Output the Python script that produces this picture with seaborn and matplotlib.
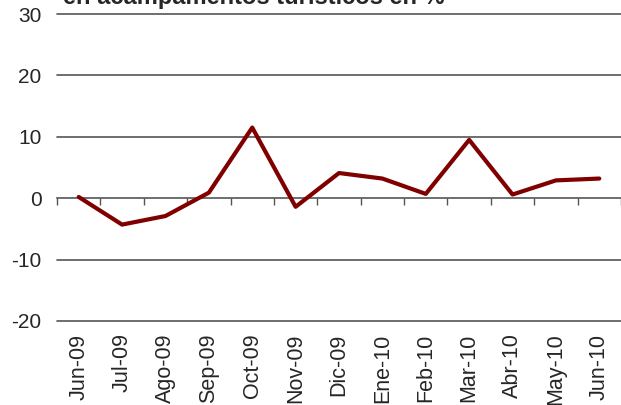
import matplotlib
matplotlib.use("Agg")
import numpy as np
import pandas as pd
import matplotlib.pyplot as plt
import seaborn as sns

# Datos: variación interanual (%)
meses = ['Jun-09', 'Jul-09', 'Ago-09', 'Sep-09', 'Oct-09', 'Nov-09', 'Dic-09',
         'Ene-10', 'Feb-10', 'Mar-10', 'Abr-10', 'May-10', 'Jun-10']
variacion = [0.2, -4.3, -2.9, 0.9, 11.5, -1.4, 4.1, 3.2, 0.7, 9.5, 0.6, 2.9, 3.2]
y_ticks = [-20, -10, 0, 10, 20, 30]

df = pd.DataFrame({'mes': meses, 'var': variacion})

sns.set_style('white')
plt.rcParams['font.family'] = ['Liberation Sans', 'DejaVu Sans']

fig = plt.figure(figsize=(6.21, 4.05), dpi=100)
ax = fig.add_axes([57 / 621, (405 - 321) / 405, 1 - 57 / 621, (321 - 14) / 405])

sns.lineplot(x=np.arange(len(meses)), y='var', data=df, color='#800000',
             linewidth=3.0, ax=ax)

ax.set_xlim(-0.5, len(meses) - 0.5)
ax.set_ylim(-20, 30)
ax.set_yticks(y_ticks)
ax.set_yticklabels([str(v) for v in y_ticks], fontsize=15)
for v in y_ticks:
    if v != 0:
        ax.axhline(v, color='#555555', linewidth=1.2, zorder=0, clip_on=False)

ax.set_xticks(np.arange(len(meses)))
ax.set_xticklabels(meses, rotation=90, fontsize=15.5)
ax.tick_params(axis='x', length=0, pad=9)
ax.tick_params(axis='y', length=0, pad=11)
ax.set_xlabel('')
ax.set_ylabel('')
for s in ax.spines.values():
    s.set_visible(False)

# eje en el cero con marcas entre categorías
eje0 = ax.secondary_xaxis(20 / 50)
eje0.set_xticks(np.arange(len(meses) + 1) - 0.5)
eje0.set_xticklabels([])
eje0.tick_params(axis='x', direction='out', length=5, width=1, color='#555555')
eje0.spines['bottom'].set_color('#555555')
eje0.spines['bottom'].set_linewidth(1.2)

fig.text(63 / 621, 1 - 4 / 405, 'en acampamentos turísticos en %',
         fontsize=17, fontweight='bold', va='baseline', ha='left')

fig.savefig('out.png', dpi=100)
